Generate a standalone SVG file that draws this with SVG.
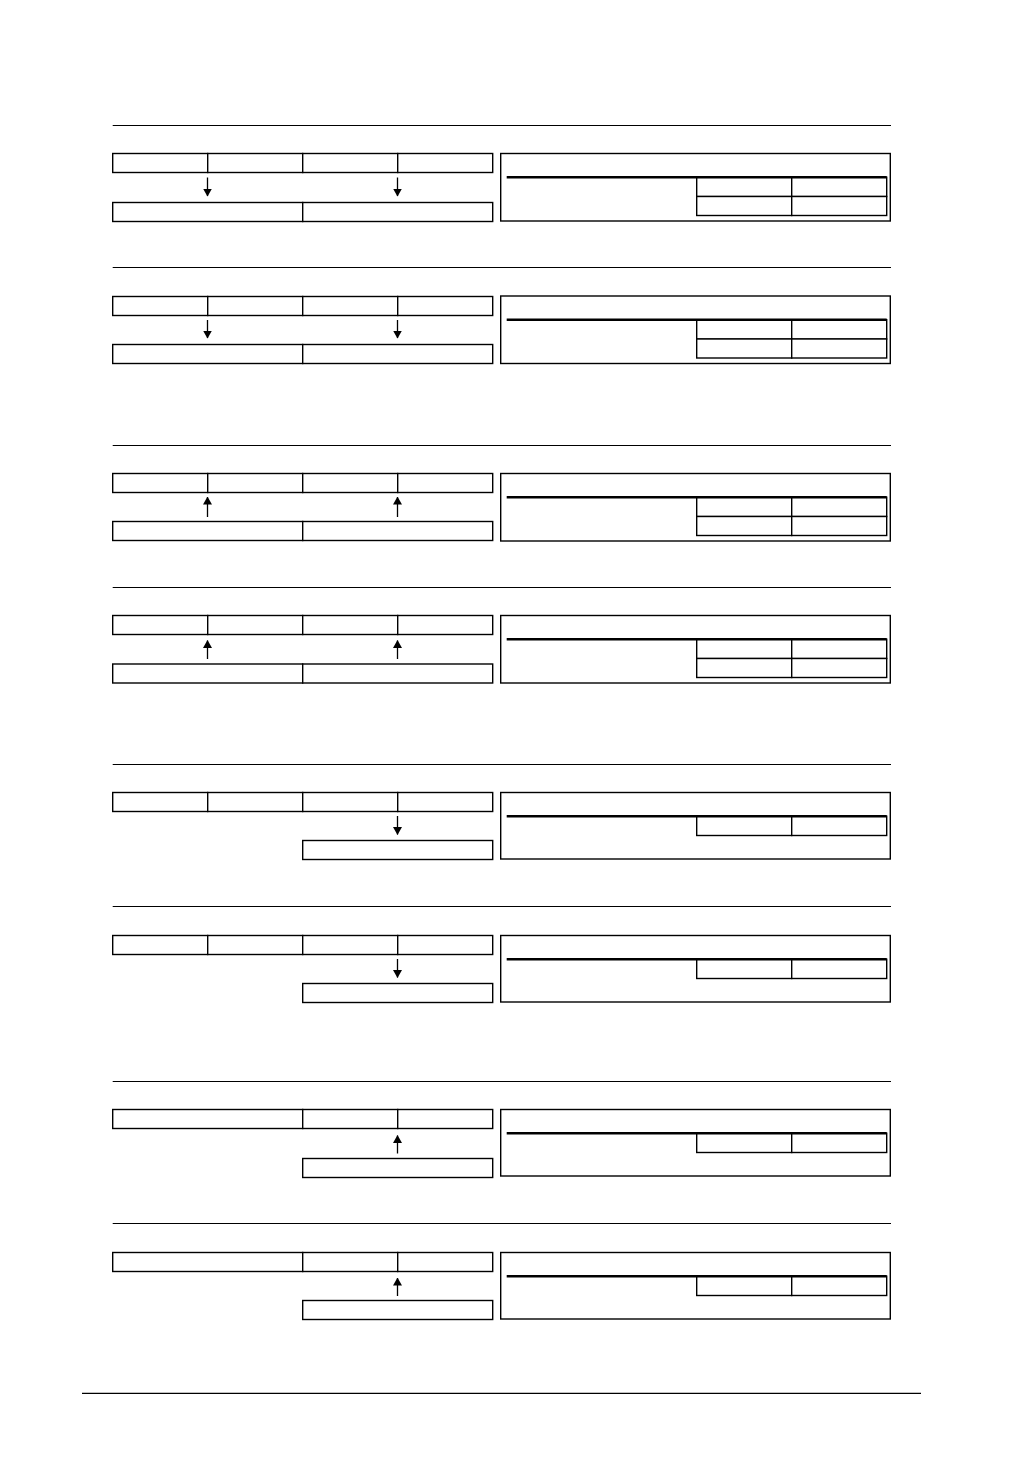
<svg xmlns="http://www.w3.org/2000/svg" width="1031" height="1457" viewBox="0 0 1031 1457">
<style>
.sep{stroke:#000;stroke-width:1.2;fill:none}
.cell{fill:#fff;stroke:#000;stroke-width:1.4}
.thick{stroke:#000;stroke-width:2.4;fill:none}
.conn{stroke:#000;stroke-width:1.3;fill:none}
</style>
<defs>
<marker id="ah" viewBox="0 0 8 9" refX="7.5" refY="4.5" markerWidth="8" markerHeight="9" markerUnits="userSpaceOnUse" orient="auto">
<path d="M0,0 L8,4.5 L0,9 z" fill="#000"/>
</marker>
<g id="row4">
<rect class="cell" x="112.7" y="0" width="95" height="19"/>
<rect class="cell" x="207.7" y="0" width="95" height="19"/>
<rect class="cell" x="302.7" y="0" width="95" height="19"/>
<rect class="cell" x="397.7" y="0" width="95" height="19"/>
</g>
<g id="row3">
<rect class="cell" x="112.7" y="0" width="190" height="19"/>
<rect class="cell" x="302.7" y="0" width="95" height="19"/>
<rect class="cell" x="397.7" y="0" width="95" height="19"/>
</g>
<g id="row2">
<rect class="cell" x="112.7" y="0" width="190" height="19"/>
<rect class="cell" x="302.7" y="0" width="190" height="19"/>
</g>
<g id="row1">
<rect class="cell" x="302.7" y="0" width="190" height="19"/>
</g>
<g id="panel2">
<rect class="cell" x="500.7" y="0" width="389.6" height="67.5"/>
<rect class="cell" x="696.7" y="23.7" width="95" height="19.3"/>
<rect class="cell" x="791.7" y="23.7" width="95" height="19.3"/>
<rect class="cell" x="696.7" y="43" width="95" height="19"/>
<rect class="cell" x="791.7" y="43" width="95" height="19"/>
<line class="thick" x1="506.7" y1="23.7" x2="886.7" y2="23.7"/>
</g>
<g id="panel1">
<rect class="cell" x="500.7" y="0" width="389.6" height="66.5"/>
<rect class="cell" x="696.7" y="23.7" width="95" height="19.3"/>
<rect class="cell" x="791.7" y="23.7" width="95" height="19.3"/>
<line class="thick" x1="506.7" y1="23.7" x2="886.7" y2="23.7"/>
</g>
</defs>
<g id="separators">
<line class="sep" x1="112.7" y1="125.5" x2="891" y2="125.5"/>
<line class="sep" x1="112.7" y1="267.5" x2="891" y2="267.5"/>
<line class="sep" x1="112.7" y1="445.5" x2="891" y2="445.5"/>
<line class="sep" x1="112.7" y1="587.5" x2="891" y2="587.5"/>
<line class="sep" x1="112.7" y1="764.5" x2="891" y2="764.5"/>
<line class="sep" x1="112.7" y1="906.5" x2="891" y2="906.5"/>
<line class="sep" x1="112.7" y1="1081.5" x2="891" y2="1081.5"/>
<line class="sep" x1="112.7" y1="1223.5" x2="891" y2="1223.5"/>
<line class="sep" x1="82" y1="1393.3" x2="921" y2="1393.3"/>
</g>
<g id="s1-top"><use href="#row4" y="153.5"/></g>
<g id="s1-bottom"><use href="#row2" y="202.5"/></g>
<g id="s1-panel"><use href="#panel2" y="153.5"/></g>
<g id="s2-top"><use href="#row4" y="296.5"/></g>
<g id="s2-bottom"><use href="#row2" y="344.5"/></g>
<g id="s2-panel"><use href="#panel2" y="296"/></g>
<g id="s3-top"><use href="#row4" y="473.5"/></g>
<g id="s3-bottom"><use href="#row2" y="521.5"/></g>
<g id="s3-panel"><use href="#panel2" y="473.5"/></g>
<g id="s4-top"><use href="#row4" y="615.5"/></g>
<g id="s4-bottom"><use href="#row2" y="664"/></g>
<g id="s4-panel"><use href="#panel2" y="615.5"/></g>
<g id="s5-top"><use href="#row4" y="792.5"/></g>
<g id="s5-bottom"><use href="#row1" y="840.5"/></g>
<g id="s5-panel"><use href="#panel1" y="792.5"/></g>
<g id="s6-top"><use href="#row4" y="935.5"/></g>
<g id="s6-bottom"><use href="#row1" y="983.5"/></g>
<g id="s6-panel"><use href="#panel1" y="935.5"/></g>
<g id="s7-top"><use href="#row3" y="1109.5"/></g>
<g id="s7-bottom"><use href="#row1" y="1158.5"/></g>
<g id="s7-panel"><use href="#panel1" y="1109.5"/></g>
<g id="s8-top"><use href="#row3" y="1252.5"/></g>
<g id="s8-bottom"><use href="#row1" y="1300.5"/></g>
<g id="s8-panel"><use href="#panel1" y="1252.5"/></g>
<g id="connectors">
<line class="conn" x1="207.5" y1="177.5" x2="207.5" y2="196" marker-end="url(#ah)"/>
<line class="conn" x1="397.5" y1="177.5" x2="397.5" y2="196" marker-end="url(#ah)"/>
<line class="conn" x1="207.5" y1="320" x2="207.5" y2="338" marker-end="url(#ah)"/>
<line class="conn" x1="397.5" y1="320" x2="397.5" y2="338" marker-end="url(#ah)"/>
<line class="conn" x1="207.5" y1="517" x2="207.5" y2="497" marker-end="url(#ah)"/>
<line class="conn" x1="397.5" y1="517" x2="397.5" y2="497" marker-end="url(#ah)"/>
<line class="conn" x1="207.5" y1="659" x2="207.5" y2="640.5" marker-end="url(#ah)"/>
<line class="conn" x1="397.5" y1="659" x2="397.5" y2="640.5" marker-end="url(#ah)"/>
<line class="conn" x1="397.5" y1="816" x2="397.5" y2="834.5" marker-end="url(#ah)"/>
<line class="conn" x1="397.5" y1="959" x2="397.5" y2="977.5" marker-end="url(#ah)"/>
<line class="conn" x1="397.5" y1="1153.5" x2="397.5" y2="1135.5" marker-end="url(#ah)"/>
<line class="conn" x1="397.5" y1="1296" x2="397.5" y2="1278" marker-end="url(#ah)"/>
</g>
</svg>
